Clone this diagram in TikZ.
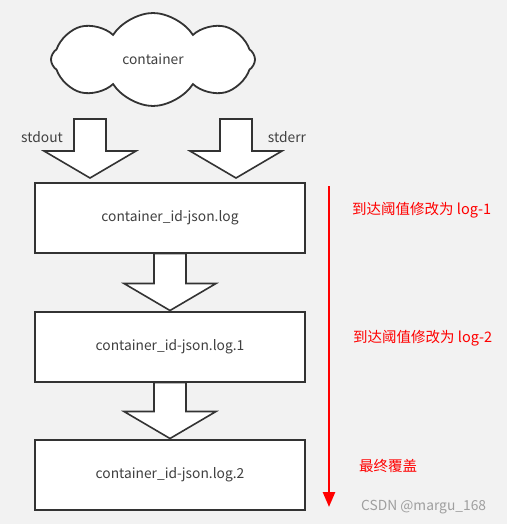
\documentclass[tikz,border=0pt]{standalone}
\usepackage{fontspec}
\setmainfont{Noto Sans CJK SC}
\usetikzlibrary{shapes.symbols,arrows.meta,calc}
\newcommand{\fatarrow}[2]{%
  \draw[fat] let \p1=(#1), \p2=(#2) in
    (\x1-16pt,\y1) -- (\x1+16pt,\y1) -- (\x1+16pt,\y2+27pt) -- (\x1+46pt,\y2+27pt)
    -- (\x2,\y2) -- (\x1-46pt,\y2+27pt) -- (\x1-16pt,\y2+27pt) -- cycle;}
\begin{document}
\begin{tikzpicture}[x=1pt,y=-1pt,font=\fontsize{13.8}{16}\selectfont]
\definecolor{fond}{RGB}{242,242,242}
\definecolor{trait}{RGB}{51,51,51}
\definecolor{texte}{RGB}{64,64,64}
\tikzset{
  box/.style={draw=trait,line width=2pt,fill=white,minimum width=270pt,minimum height=70pt,text=texte},
  fat/.style={draw=trait,line width=1.6pt,fill=white,line join=miter},
  note/.style={text=red,anchor=west,inner sep=0pt,font=\fontsize{14.5}{17}\selectfont}
}
\fill[fond] (0,0) rectangle (507,524);
\node[cloud,draw=trait,line width=1.8pt,fill=white,text=texte,cloud puffs=8,cloud puff arc=115,
  aspect=2.2,minimum width=204pt,minimum height=93pt,inner sep=0pt] (cont) at (153,59.5) {container};
\foreach \i/\y/\nom in {1/217.5/container\_id-json.log,2/346.5/container\_id-json.log.1,3/474.5/container\_id-json.log.2}
  \node[box] (b\i) at (170,\y) {\nom};
% stdout / stderr
\coordinate (outtop) at (90,119);
\coordinate (outtip) at (90,178);
\coordinate (errtop) at (236,119);
\coordinate (errtip) at (236,178);
\fatarrow{outtop}{outtip}
\fatarrow{errtop}{errtip}
\node[text=texte,inner sep=0pt] (out) at (42,137) {stdout};
\node[text=texte,inner sep=0pt] (err) at (287,137) {stderr};
\fatarrow{b1.south}{b2.north}
\fatarrow{b2.south}{b3.north}
% rotation
\coordinate (rtop) at (329,186);
\coordinate (rend) at (329,507);
\draw[red,line width=2.6pt,-{Triangle[length=15pt,width=12pt]}] (rtop) -- (rend);
\node[note] (n1) at (352,210) {到达阈值修改为 log-1};
\node[note] (n2) at (353,338) {到达阈值修改为 log-2};
\node[note] (n3) at (359,466) {最终覆盖};
\node[text=gray!75,anchor=west,inner sep=0pt] (mark) at (361,507) {CSDN @margu\_168};
\end{tikzpicture}
\end{document}
